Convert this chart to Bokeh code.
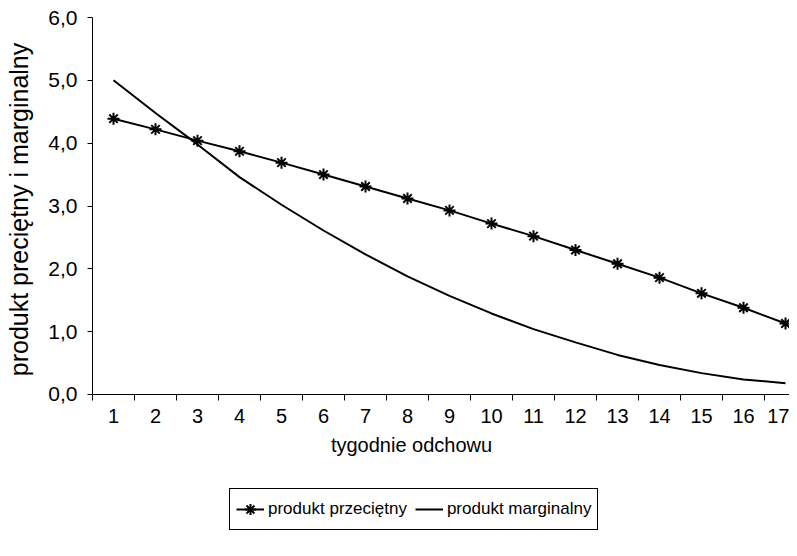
import math
from bokeh.plotting import figure
from bokeh.models import (Range1d, FixedTicker, CustomJSTickFormatter, Legend, LegendItem, Label, LinearAxis)
from bokeh.embed import file_html
from bokeh.resources import INLINE

weeks = list(range(1, 18))
avg_product = [4.39, 4.22, 4.04, 3.87, 3.69, 3.50, 3.31, 3.12, 2.93, 2.72, 2.52, 2.30, 2.08, 1.86, 1.61, 1.38, 1.13]
marg_product = [5.00, 4.48, 3.98, 3.46, 3.02, 2.61, 2.23, 1.88, 1.57, 1.29, 1.04, 0.83, 0.63, 0.47, 0.34, 0.24, 0.18]
y_ticks = [0, 1, 2, 3, 4, 5, 6]
x_label = "tygodnie odchowu"
y_label = "produkt preciętny i marginalny"
name_avg = "produkt przeciętny"
name_marg = "produkt marginalny"

FONT = "Liberation Sans"

p = figure(width=789, height=548, output_backend="svg", toolbar_location=None,
           x_range=Range1d(-1.6905, 17.095), y_range=Range1d(-2.451, 6.2706),
           x_axis_location=None, y_axis_location=None,
           min_border_left=0, min_border_right=0, min_border_top=0, min_border_bottom=0)
p.outline_line_color = None
p.xgrid.grid_line_color = None
p.ygrid.grid_line_color = None
p.background_fill_color = "white"
p.border_fill_color = "white"

# x axis, fixed at y = 0 inside the frame
xa = LinearAxis(fixed_location=0, bounds=(0.5, 17.5))
xa.ticker = FixedTicker(ticks=weeks, minor_ticks=[w - 0.5 for w in weeks] + [17.5])
xa.major_tick_line_color = None
xa.major_tick_out = 0
xa.major_tick_in = 0
xa.minor_tick_line_color = "black"
xa.minor_tick_out = 6
xa.minor_tick_in = 0
xa.major_label_standoff = 9
xa.major_label_text_font = FONT
xa.major_label_text_font_size = "20px"
xa.major_label_text_color = "black"
xa.axis_line_color = "black"
p.add_layout(xa, "below")

# y axis, fixed at the left edge of the category band
ya = LinearAxis(fixed_location=0.5, bounds=(0, 6))
ya.ticker = FixedTicker(ticks=y_ticks)
ya.formatter = CustomJSTickFormatter(code="return tick.toFixed(1).replace('.', ',');")
ya.major_tick_out = 5
ya.major_tick_in = 0
ya.minor_tick_line_color = None
ya.major_label_standoff = 10
ya.major_label_text_font = FONT
ya.major_label_text_font_size = "21px"
ya.major_label_text_color = "black"
ya.axis_line_color = "black"
p.add_layout(ya, "left")

r_marg = p.line(weeks, marg_product, line_color="black", line_width=2)
r_avg_line = p.line(weeks, avg_product, line_color="black", line_width=2)
r_avg_pts = p.scatter(weeks, avg_product, marker="asterisk", size=12, line_color="black", line_width=2)

# axis titles
p.add_layout(Label(x=411, y=104, x_units="screen", y_units="screen", text=x_label,
                   text_font=FONT, text_font_size="20px", text_color="black",
                   text_align="center", text_baseline="middle"))
p.add_layout(Label(x=18, y=339, x_units="screen", y_units="screen", text=y_label,
                   angle=math.pi / 2, angle_units="rad",
                   text_font=FONT, text_font_size="25px", text_color="black",
                   text_align="center", text_baseline="middle"))

legend = Legend(items=[LegendItem(label=name_avg, renderers=[r_avg_line, r_avg_pts]),
                       LegendItem(label=name_marg, renderers=[r_marg])],
                orientation="horizontal", location=(229, 18),
                border_line_color="black", border_line_width=1, border_line_alpha=1,
                background_fill_color="white", background_fill_alpha=1,
                label_text_font=FONT, label_text_font_size="17px", label_text_color="black",
                glyph_width=28, glyph_height=28, label_standoff=4, spacing=8,
                padding=6, margin=0)
p.add_layout(legend)

open("out.html", "w").write(file_html(p, INLINE))
